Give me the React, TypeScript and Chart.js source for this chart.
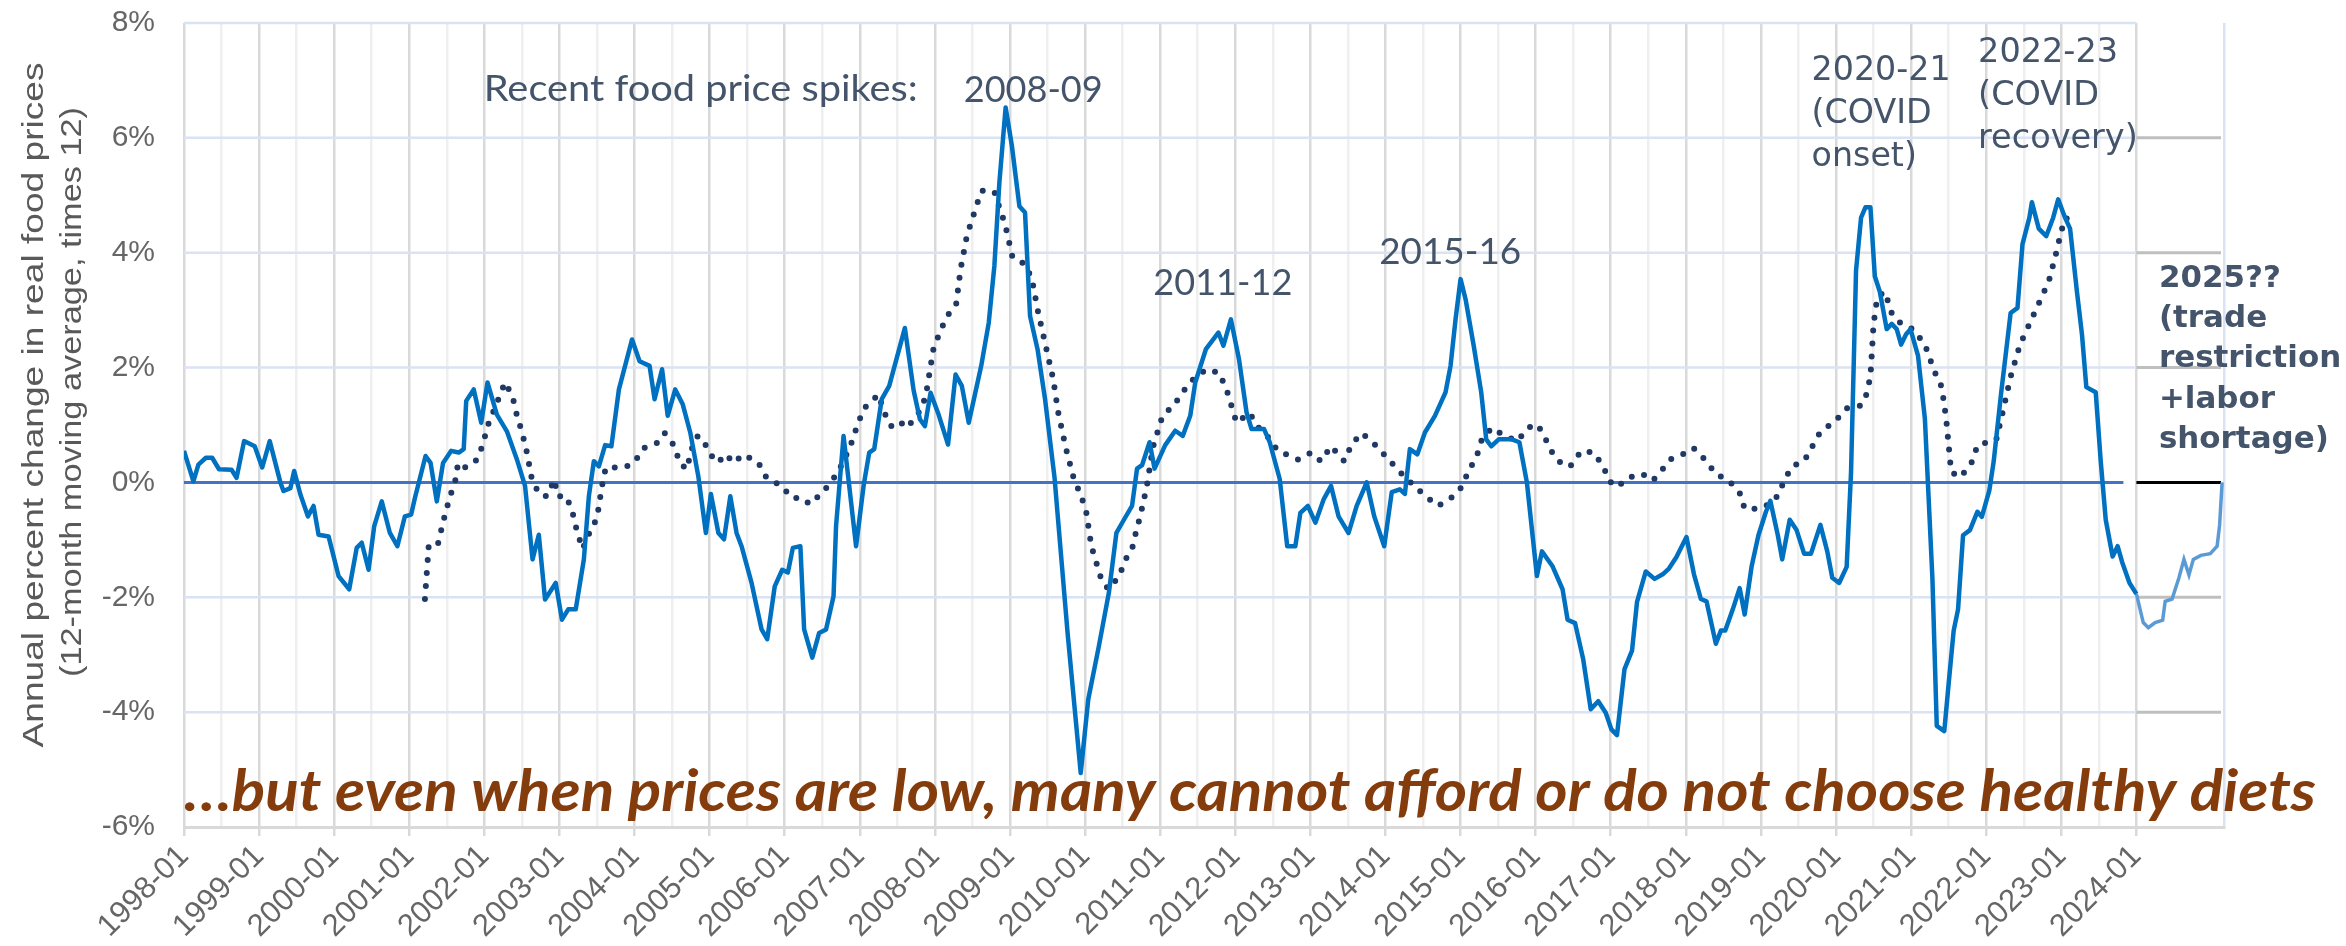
import React, { useEffect, useRef } from 'react';
import { Chart, registerables } from 'chart.js';

Chart.register(...registerables);

// ---------- data ----------
// x positions are month indices counted from 1998-01 (0) ; 2024-01 = 312
const yearLabels = [
  '1998-01', '1999-01', '2000-01', '2001-01', '2002-01', '2003-01', '2004-01', '2005-01', '2006-01',
  '2007-01', '2008-01', '2009-01', '2010-01', '2011-01', '2012-01', '2013-01', '2014-01', '2015-01',
  '2016-01', '2017-01', '2018-01', '2019-01', '2020-01', '2021-01', '2022-01', '2023-01', '2024-01',
];
const yTickValues = [-6, -4, -2, 0, 2, 4, 6, 8];
const lastObservedMonth = 312;
const axisMaxMonth = 326;

// solid line: annual % change in real food prices (12-month moving average, x12)
const solidMonths = [
  0, 1.5, 2.3, 3.5, 4.5, 5.6, 7.6, 8.4, 9.6, 11.3, 12.5, 13.7, 15.4, 15.9, 17.0, 17.6, 18.6, 19.8, 20.7, 21.5,
  23.1, 24.7, 26.4, 27.6, 28.4, 29.5, 30.4, 31.6, 32.9, 34.1, 35.3, 36.3, 36.9, 38.6, 39.4, 40.4, 41.4, 42.7, 43.9, 44.7,
  45.1, 46.3, 47.5, 48.5, 50.0, 51.6, 53.2, 54.5, 55.7, 56.7, 57.7, 59.4, 60.4, 61.4, 62.6, 63.9, 64.7, 65.5, 66.3, 67.3,
  68.3, 69.5, 71.6, 72.8, 74.4, 75.2, 76.4, 77.3, 78.5, 79.7, 80.9, 82.2, 83.4, 84.2, 85.4, 86.3, 87.3, 88.3, 89.1, 90.7,
  92.3, 93.2, 94.4, 95.6, 96.5, 97.3, 98.5, 99.1, 100.4, 101.5, 102.6, 103.8, 104.2, 105.4, 107.4, 108.6, 109.5, 110.3, 111.5, 112.7,
  115.2, 116.6, 117.6, 118.4, 119.3, 120.5, 122.1, 123.3, 124.3, 125.4, 127.4, 128.6, 129.5, 130.3, 131.3, 132.3, 133.5, 134.4, 135.2, 136.4,
  137.6, 139.1, 141.2, 143.3, 144.5, 146.2, 147.8, 149.0, 150.2, 151.5, 152.3, 153.1, 154.3, 155.1, 156.8, 158.4, 159.6, 160.8, 161.6, 163.3,
  165.3, 166.1, 167.3, 168.6, 169.8, 170.6, 172.6, 173.5, 175.1, 176.3, 177.6, 178.4, 179.6, 180.8, 182.1, 183.3, 184.5, 186.1, 187.4, 189.0,
  190.2, 191.8, 193.0, 194.3, 195.1, 195.9, 197.1, 198.3, 199.9, 201.6, 202.4, 203.2, 204.0, 204.8, 206.1, 207.3, 208.1, 208.9, 210.1, 212.2,
  213.4, 214.6, 216.2, 217.0, 218.7, 220.3, 221.1, 222.3, 223.6, 224.8, 226.0, 227.2, 228.1, 229.0, 230.2, 231.4, 232.2, 233.6, 235.0, 236.3,
  237.3, 238.5, 240.1, 241.3, 242.4, 243.3, 244.8, 245.6, 246.3, 247.5, 248.6, 249.4, 250.5, 251.6, 252.8, 253.5, 254.7, 255.4, 256.6, 257.7,
  258.9, 260.0, 261.5, 262.6, 263.4, 264.5, 265.7, 266.4, 267.2, 268.0, 268.7, 269.5, 270.2, 271.0, 272.1, 272.9, 273.7, 274.4, 275.2, 275.9,
  277.1, 278.2, 279.4, 280.1, 281.3, 282.0, 282.8, 283.5, 284.3, 285.4, 286.6, 287.3, 288.5, 289.2, 290.4, 291.1, 291.9, 293.0, 293.8, 294.9,
  295.3, 296.4, 297.6, 298.7, 299.5, 300.6, 301.4, 302.5, 303.3, 304.0, 305.5, 306.3, 307.1, 308.2, 309.0, 309.7, 310.9, 312.0,
];
const solidValues = [
  0.55, 0.02, 0.31, 0.43, 0.43, 0.23, 0.22, 0.08, 0.72, 0.63, 0.26, 0.72, 0.0, -0.15, -0.10, 0.2, -0.21, -0.59, -0.41, -0.91,
  -0.94, -1.63, -1.86, -1.14, -1.05, -1.52, -0.76, -0.33, -0.88, -1.11, -0.59, -0.56, -0.27, 0.46, 0.34, -0.33, 0.34, 0.55, 0.52, 0.58,
  1.42, 1.62, 1.04, 1.74, 1.18, 0.89, 0.40, -0.06, -1.34, -0.91, -2.04, -1.75, -2.39, -2.21, -2.21, -1.34, -0.24, 0.37, 0.28, 0.65,
  0.63, 1.62, 2.49, 2.11, 2.03, 1.45, 1.97, 1.16, 1.62, 1.36, 0.87, 0.1, -0.88, -0.2, -0.88, -0.99, -0.24, -0.88, -1.11, -1.75,
  -2.56, -2.73, -1.81, -1.52, -1.57, -1.14, -1.11, -2.56, -3.05, -2.62, -2.56, -1.98, -0.76, 0.81, -1.11, -0.06, 0.52, 0.58, 1.45, 1.68,
  2.69, 1.6, 1.10, 0.98, 1.56, 1.21, 0.66, 1.88, 1.68, 1.04, 2.03, 2.78, 3.77, 5.22, 6.53, 5.86, 4.81, 4.70, 2.90, 2.32,
  1.45, 0.1, -2.62, -5.06, -3.78, -2.85, -1.92, -0.88, -0.65, -0.41, 0.24, 0.30, 0.70, 0.24, 0.65, 0.90, 0.81, 1.16, 1.74, 2.32,
  2.61, 2.38, 2.84, 2.14, 1.22, 0.93, 0.93, 0.70, 0.06, -1.11, -1.11, -0.53, -0.41, -0.70, -0.30, -0.06, -0.59, -0.88, -0.41, 0.0,
  -0.59, -1.11, -0.17, -0.12, -0.2, 0.58, 0.49, 0.87, 1.16, 1.57, 2.03, 2.84, 3.54, 3.19, 2.38, 1.57, 0.75, 0.63, 0.75, 0.75,
  0.70, 0.0, -1.63, -1.20, -1.46, -1.86, -2.39, -2.45, -3.08, -3.95, -3.81, -4.01, -4.30, -4.40, -3.25, -2.93, -2.08, -1.55, -1.68, -1.6,
  -1.5, -1.3, -0.95, -1.6, -2.03, -2.07, -2.81, -2.58, -2.58, -2.21, -1.84, -2.30, -1.47, -0.92, -0.51, -0.32, -0.92, -1.34, -0.65, -0.83,
  -1.24, -1.24, -0.74, -1.20, -1.66, -1.75, -1.47, 0.18, 3.69, 4.61, 4.79, 4.79, 3.59, 3.32, 2.67, 2.76, 2.67, 2.40, 2.58, 2.67,
  2.21, 1.11, -1.66, -4.24, -4.33, -3.50, -2.58, -2.21, -0.92, -0.83, -0.51, -0.60, -0.14, 0.37, 1.57, 2.21, 2.95, 3.04, 4.15, 4.61,
  4.88, 4.42, 4.29, 4.61, 4.93, 4.61, 4.42, 3.32, 2.58, 1.66, 1.57, 0.37, -0.65, -1.29, -1.11, -1.38, -1.75, -1.94,
];

// dotted line
const dottedMonths = [
  38.5, 39.1, 40.5, 41.7, 42.5, 43.4, 43.8, 45.0, 46.6, 47.8, 48.4, 51.3, 52.5, 53.1, 53.8, 54.6, 55.6, 56.8, 58.0, 59.2,
  59.7, 61.1, 62.1, 62.8, 63.7, 64.7, 66.0, 66.8, 67.4, 70.3, 71.9, 73.5, 75.6, 76.8, 78.4, 79.2, 80.4, 81.0, 82.1, 82.9,
  84.1, 85.3, 86.6, 87.8, 89.4, 91.8, 93.1, 95.5, 97.1, 98.8, 100.0, 102.0, 103.7, 105.3, 106.9, 107.7, 109.0, 111.0, 111.8, 113.0,
  114.3, 115.5, 117.3, 118.5, 119.8, 121.8, 123.4, 124.1, 125.1, 126.7, 127.5, 129.5, 130.3, 131.2, 132.4, 134.4, 135.5, 136.5, 137.7, 138.9,
  139.7, 140.9, 142.2, 143.4, 144.2, 145.0, 145.8, 146.6, 147.7, 149.5, 150.3, 151.5, 152.1, 152.8, 153.4, 154.0, 154.8, 156.4, 158.1, 159.7,
  161.3, 163.4, 165.4, 166.6, 167.4, 168.2, 170.3, 171.5, 173.1, 174.8, 178.0, 180.1, 181.7, 183.3, 185.4, 186.6, 188.2, 190.3, 192.0, 193.9,
  195.5, 198.4, 200.4, 202.5, 204.1, 205.3, 206.6, 207.4, 209.0, 211.0, 213.1, 214.7, 216.3, 217.6, 218.8, 220.4, 221.6, 223.3, 225.3, 226.9,
  227.7, 229.0, 231.0, 233.0, 234.7, 236.3, 237.5, 239.5, 241.2, 243.3, 244.8, 246.7, 248.6, 249.4, 251.6, 253.5, 254.7, 255.8, 257.0, 258.9,
  261.5, 263.8, 265.7, 268.0, 268.7, 269.5, 270.0, 270.6, 271.8, 272.9, 274.4, 276.3, 278.2, 279.7, 280.9, 281.6, 282.4, 283.9, 285.8, 286.6,
  289.6, 290.4, 291.9, 293.4, 295.7, 298.0, 299.1, 299.9, 300.6, 301.4,
];
const dottedValues = [
  -2.03, -1.11, -1.11, -0.56, -0.25, 0.05, 0.34, 0.26, 0.37, 0.66, 0.95, 1.74, 1.50, 1.21, 0.95, 0.63, 0.05, -0.21, -0.24, 0.05,
  -0.24, -0.24, -0.53, -0.85, -1.16, -0.90, -0.62, -0.06, 0.26, 0.26, 0.34, 0.60, 0.69, 0.86, 0.63, 0.34, 0.23, 0.55, 0.81, 0.75,
  0.49, 0.34, 0.49, 0.34, 0.49, 0.34, 0.08, -0.06, -0.27, -0.27, -0.38, -0.18, 0.05, 0.34, 0.75, 1.04, 1.33, 1.53, 1.24, 0.98,
  1.07, 0.95, 1.19, 1.48, 2.35, 2.87, 3.11, 3.71, 4.29, 4.84, 5.08, 5.06, 4.79, 4.50, 3.92, 3.80, 3.54, 2.96, 2.38, 1.80,
  1.22, 0.61, 0.06, -0.24, -0.53, -1.11, -1.40, -1.69, -1.86, -1.63, -1.37, -1.16, -0.88, -0.59, -0.30, 0.02, 0.60, 1.17, 1.33, 1.59,
  1.80, 1.97, 1.91, 1.62, 1.33, 1.04, 1.21, 0.98, 0.81, 0.55, 0.40, 0.52, 0.37, 0.63, 0.37, 0.66, 0.86, 0.66, 0.46, 0.23,
  0.05, -0.24, -0.41, -0.27, -0.09, 0.20, 0.46, 0.75, 0.95, 0.81, 0.72, 0.95, 1.01, 0.75, 0.49, 0.29, 0.29, 0.55, 0.52, 0.26,
  0.03, -0.08, 0.09, 0.15, 0.03, 0.23, 0.40, 0.49, 0.60, 0.37, 0.14, 0.05, -0.18, -0.46, -0.46, -0.37, -0.23, 0.05, 0.28, 0.37,
  0.88, 1.06, 1.29, 1.34, 1.47, 1.84, 2.76, 3.23, 3.32, 2.95, 2.76, 2.67, 2.40, 1.94, 1.66, 1.11, 0.18, 0.09, 0.37, 0.65,
  0.74, 1.11, 1.84, 2.40, 2.95, 3.50, 3.96, 4.33, 4.61, 4.56,
];

// light-blue continuation after 2024-01
const outlookMonths = [312.0, 313.1, 313.9, 315.0, 316.2, 316.6, 317.7, 318.8, 319.6, 320.4, 321.1, 322.3, 323.8, 324.9, 325.3, 325.7];
const outlookValues = [-1.94, -2.44, -2.53, -2.44, -2.40, -2.07, -2.03, -1.66, -1.34, -1.61, -1.34, -1.27, -1.24, -1.11, -0.74, 0.0];

// annotations (anchored at month index / percent value of first baseline)
const spikeTexts = ['Recent food price spikes:', '2008-09', '2011-12', '2015-16'];
const spikeMonths = [47.9, 124.6, 154.9, 191.0];
const spikeValues = [6.64, 6.62, 3.26, 3.8];
const spikeWidths = [434, 139, 139, 142];

const covidBlocks = [
  { lines: ['2020-21', '(COVID', 'onset)'], month: 260.1, value: 7.0, width: 139, bold: false, lineGap: 43 },
  { lines: ['2022-23', '(COVID', 'recovery)'], month: 286.7, value: 7.32, width: 140, bold: false, lineGap: 43 },
  { lines: ['2025??', '(trade', 'restriction', '+labor', 'shortage)'], month: 315.6, value: 3.41, width: 122, bold: true, lineGap: 40.4 },
];

const axisTitleLines = ['Annual percent change in real food prices', '(12-month moving average, times 12)'];
const axisTitleLengths = [685, 570];
const axisTitleCenters = [405, 392];
const axisTitleBaselines = [43, 81];
const footnote = '\u2026but even when prices are low, many cannot afford or do not choose healthy diets';
const footnoteValue = -5.73;

// ---------- drawing helpers ----------
const SLATE = '#44546a';

function fittedText(ctx: CanvasRenderingContext2D, text: string, x: number, y: number, sx: number) {
  ctx.save();
  ctx.translate(x, y);
  ctx.scale(sx, 1);
  ctx.fillText(text, 0, 0);
  ctx.restore();
}

const decorPlugin = {
  id: 'decor',
  beforeDatasetsDraw(chart: any) {
    const { ctx, chartArea: a, scales } = chart;
    const x = scales.x;
    const y = scales.y;
    const xEnd = x.getPixelForValue(lastObservedMonth);
    ctx.save();
    ctx.lineCap = 'butt';
    yTickValues.forEach((t) => {
      if (t === yTickValues[0]) return;
      const py = y.getPixelForValue(t);
      ctx.lineWidth = t === 0 ? 3 : 2.5;
      ctx.strokeStyle = t === 0 ? '#4472c4' : '#dae3f3';
      ctx.beginPath();
      ctx.moveTo(a.left, py);
      ctx.lineTo(t === 0 ? xEnd - 13 : xEnd, py);
      ctx.stroke();
      if (t !== yTickValues[yTickValues.length - 1]) {
        ctx.strokeStyle = t === 0 ? '#000000' : '#bfbfbf';
        ctx.lineWidth = 3;
        ctx.beginPath();
        ctx.moveTo(xEnd, py);
        ctx.lineTo(a.right - 3, py);
        ctx.stroke();
      }
    });
    ctx.restore();
  },
  afterDraw(chart: any) {
    const { ctx, chartArea: a, scales } = chart;
    const x = scales.x;
    const y = scales.y;
    ctx.save();
    ctx.textAlign = 'left';
    ctx.textBaseline = 'alphabetic';

    // spike labels
    ctx.fillStyle = SLATE;
    ctx.font = '36px Lato';
    spikeTexts.forEach((t, i) => {
      const sx = spikeWidths[i] / ctx.measureText(t).width;
      fittedText(ctx, t, x.getPixelForValue(spikeMonths[i]), y.getPixelForValue(spikeValues[i]), sx);
    });

    // covid / outlook blocks
    covidBlocks.forEach((b) => {
      ctx.font = b.bold ? 'bold 31px "DejaVu Sans"' : '33px "DejaVu Sans"';
      const sx = b.width / ctx.measureText(b.lines[0]).width;
      const x0 = x.getPixelForValue(b.month);
      const y0 = y.getPixelForValue(b.value);
      b.lines.forEach((l, i) => fittedText(ctx, l, x0, y0 + i * b.lineGap, sx));
    });

    // footnote
    ctx.fillStyle = '#843c0c';
    ctx.font = 'italic bold 58px Lato';
    const fw = ctx.measureText(footnote).width;
    fittedText(ctx, footnote, a.left, y.getPixelForValue(footnoteValue), 2132 / fw);

    // y-axis title
    ctx.fillStyle = '#595959';
    ctx.font = '30px "Liberation Sans"';
    ctx.textAlign = 'center';
    axisTitleLines.forEach((l, i) => {
      const s = axisTitleLengths[i] / ctx.measureText(l).width;
      ctx.save();
      ctx.translate(axisTitleBaselines[i], axisTitleCenters[i]);
      ctx.rotate(-Math.PI / 2);
      ctx.scale(s, 1);
      ctx.fillText(l, 0, 0);
      ctx.restore();
    });
    ctx.restore();
  },
};

export default function App() {
  const ref = useRef<HTMLCanvasElement | null>(null);
  useEffect(() => {
    if (!ref.current) return;
    const chart = new Chart(ref.current, {
      type: 'line',
      data: {
        datasets: [
          {
            label: 'Real food price change',
            data: solidMonths.map((m, i) => ({ x: m, y: solidValues[i] })),
            borderColor: '#0070c0',
            borderWidth: 4.5,
            pointRadius: 0,
            tension: 0,
            borderJoinStyle: 'round',
          },
          {
            label: 'Outlook',
            data: outlookMonths.map((m, i) => ({ x: m, y: outlookValues[i] })),
            borderColor: '#5b9bd5',
            borderWidth: 3.5,
            pointRadius: 0,
            tension: 0,
          },
          {
            label: 'Trend',
            data: dottedMonths.map((m, i) => ({ x: m, y: dottedValues[i] })),
            borderColor: '#1f3864',
            borderWidth: 6,
            borderDash: [0, 13],
            borderCapStyle: 'round',
            pointRadius: 0,
            tension: 0,
          },
        ],
      },
      options: {
        animation: false,
        responsive: true,
        maintainAspectRatio: false,
        devicePixelRatio: 1,
        layout: { padding: { top: 23, right: 122, left: 0, bottom: 0 } },
        plugins: { legend: { display: false }, tooltip: { enabled: false } },
        scales: {
          x: {
            type: 'linear',
            min: 0,
            max: axisMaxMonth,
            afterFit: (s: any) => {
              s.height = 119;
            },
            border: { display: true, color: '#d9d9d9', width: 3 },
            grid: {
              lineWidth: 2.5,
              tickLength: 9,
              tickWidth: 2.5,
              color: (c: any) => {
                const v = c.tick ? c.tick.value : 0;
                if (v > lastObservedMonth) return v >= axisMaxMonth - 1 ? '#dae3f3' : 'rgba(0,0,0,0)';
                return v % 12 === 0 ? '#d9d9d9' : '#efefef';
              },
              tickColor: (c: any) => {
                const v = c.tick ? c.tick.value : 0;
                return v % 12 === 0 && v <= lastObservedMonth ? '#d9d9d9' : 'rgba(0,0,0,0)';
              },
            },
            ticks: {
              stepSize: 6,
              autoSkip: false,
              minRotation: 45,
              maxRotation: 45,
              padding: 2,
              color: '#666666',
              font: { family: '"Liberation Sans"', size: 31 },
              callback: (v: any) => {
                const n = Number(v);
                if (n % 12 === 0 && n <= lastObservedMonth) return yearLabels[n / 12];
                return '';
              },
            },
          },
          y: {
            min: yTickValues[0],
            max: yTickValues[yTickValues.length - 1],
            afterFit: (s: any) => {
              s.width = 184;
              s.paddingTop = 0;
              s.paddingBottom = 0;
            },
            border: { display: false },
            grid: { display: false, drawTicks: false },
            ticks: {
              stepSize: 2,
              padding: 29,
              color: '#666666',
              font: { family: '"Liberation Sans"', size: 30 },
              callback: (v: any) => `${v}%`,
            },
          },
        },
      },
      plugins: [decorPlugin],
    });
    return () => chart.destroy();
  }, []);

  return (
    <div style={{ position: 'fixed', left: 0, top: 0, width: 2346, height: 946, background: '#ffffff' }}>
      <canvas ref={ref} />
    </div>
  );
}
